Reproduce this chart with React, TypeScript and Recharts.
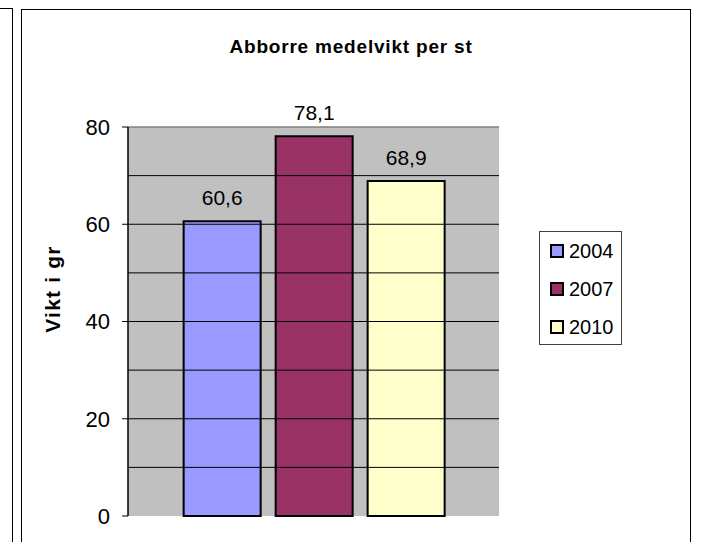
import { BarChart, Bar, XAxis, YAxis, CartesianGrid, ReferenceLine, LabelList, Legend } from 'recharts';

const years = ['2004', '2007', '2010'];
const weights = [60.6, 78.1, 68.9];
const colors = ['#9999FF', '#993366', '#FFFFCC'];
const yTicks = [0, 20, 40, 60, 80];
const gridLines = [10, 20, 30, 40, 50, 60, 70];

const row: Record<string, number | string> = { name: '' };
years.forEach((y, i) => { row['y' + y] = weights[i]; });
const data = [row];

const font = "Arial, 'Liberation Sans', sans-serif";

function LegendBox() {
  return (
    <div style={{ width: 83, height: 114, border: '1px solid #404040', background: '#fff', boxSizing: 'border-box', fontFamily: font }}>
      {years.map((y, i) => (
        <div key={y} style={{ height: 38, display: 'flex', alignItems: 'center', paddingLeft: 10 }}>
          <div style={{ width: 10, height: 10, border: '2px solid #000', background: colors[i] }} />
          <span style={{ fontSize: 20, marginLeft: 5, color: '#000' }}>{y}</span>
        </div>
      ))}
    </div>
  );
}

export default function App() {
  return (
    <div style={{ position: 'absolute', left: 0, top: 0, width: 701, height: 542, overflow: 'hidden', background: '#fff' }}>
      {/* neighbouring chart frame */}
      <div style={{ position: 'absolute', left: -2, top: 8, width: 14, height: 600, borderTop: '1px solid #000', borderRight: '1px solid #000' }} />
      {/* chart frame */}
      <div style={{ position: 'absolute', left: 21, top: 9, width: 668, height: 600, border: '1px solid #000' }} />
      <div style={{ position: 'absolute', left: 0, top: 36, width: 702, textAlign: 'center', fontFamily: font, fontWeight: 'bold', fontSize: 19, lineHeight: '22px', letterSpacing: 0.8 }}>
        Abborre medelvikt per st
      </div>
      <div style={{ position: 'absolute', left: 53, top: 289, transform: 'translate(-50%, -50%) rotate(-90deg)', whiteSpace: 'nowrap', fontFamily: font, fontWeight: 'bold', fontSize: 21, letterSpacing: 1.2 }}>
        Vikt i gr
      </div>
      <div style={{ position: 'absolute', left: 0, top: 0 }}>
        <BarChart width={701} height={542} data={data} margin={{ top: 127, right: 202, bottom: 26, left: 68 }}
          barCategoryGap="15%" barGap={15}>
          <CartesianGrid horizontal={false} vertical={false} fill="#C0C0C0" fillOpacity={1} />
          <XAxis dataKey="name" height={0} tick={false} tickLine={false} axisLine={{ stroke: '#808080', strokeWidth: 2 }} />
          <YAxis width={60} domain={[0, 80]} ticks={yTicks} interval={0} tickSize={6} tickMargin={12}
            axisLine={{ stroke: '#000', strokeWidth: 1.5 }} tickLine={{ stroke: '#000' }}
            tick={{ fill: '#000', fontSize: 22, fontFamily: font }} />
          <YAxis yAxisId="r" orientation="right" width={0} domain={[0, 80]} tick={false} tickLine={false}
            axisLine={{ stroke: '#808080', strokeWidth: 2 }} />
          {gridLines.map((v) => (
            <ReferenceLine key={v} y={v} stroke="#000" strokeWidth={1} />
          ))}
          <ReferenceLine y={80} stroke="#808080" strokeWidth={1.5} />
          {years.map((y, i) => (
            <Bar key={y} dataKey={'y' + y} name={y} fill={colors[i]} stroke="#000" strokeWidth={2} isAnimationActive={false}>
              <LabelList dataKey={'y' + y} position="top" offset={16} fill="#000" fontSize={21} fontFamily={font}
                formatter={(v: number) => String(v).replace('.', ',')} />
            </Bar>
          ))}
          <Legend align="center" verticalAlign="middle" content={() => <LegendBox />}
            wrapperStyle={{ left: 539, top: 231, width: 83 }} />
        </BarChart>
      </div>
    </div>
  );
}
